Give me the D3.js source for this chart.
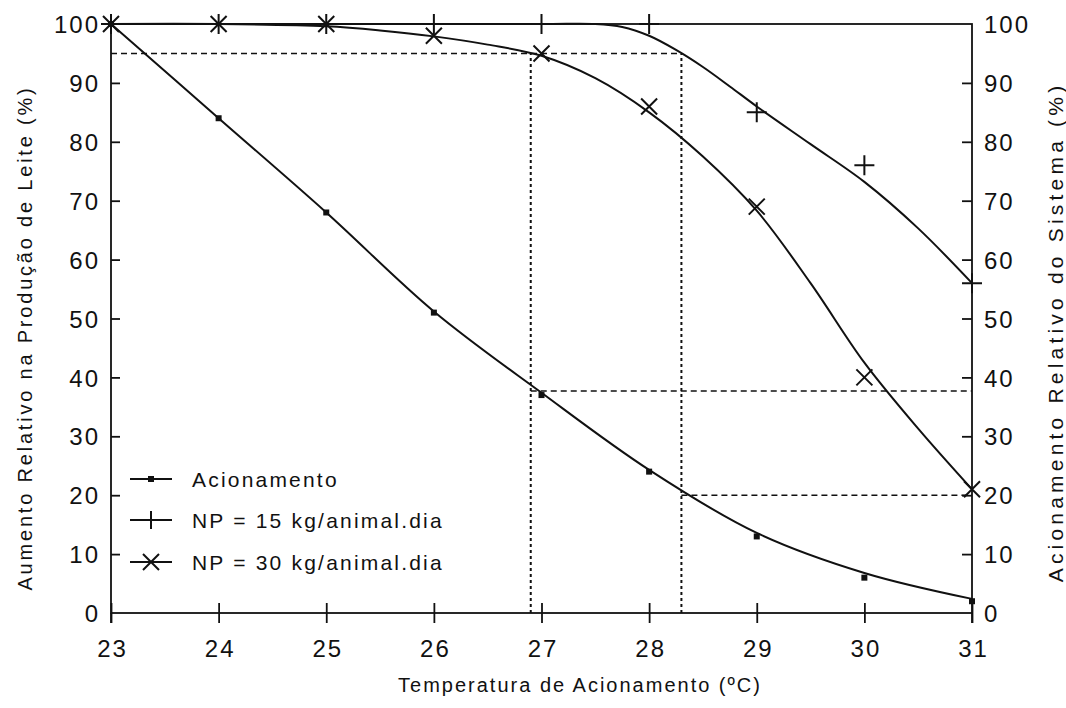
<!DOCTYPE html>
<html>
<head>
<meta charset="utf-8">
<script src="https://cdn.jsdelivr.net/npm/d3@7"></script>
<style>
  html, body { margin: 0; padding: 0; background: #fff; }
  svg text { font-family: "Liberation Sans", Arial, sans-serif; fill: #111; }
</style>
</head>
<body>
<svg id="chart" width="1066" height="708"></svg>
<script>
// Measured points at each temperature
const temps = [23, 24, 25, 26, 27, 28, 29, 30, 31];
const acionamento = [100, 84, 68, 51, 37, 24, 13, 6, 2];
const np15 = [100, 100, 100, 100, 100, 100, 85, 76, 56];
const np30 = [100, 100, 100, 98, 95, 86, 69, 40, 21];

// Fitted curves drawn through the measurements
const fitTempsAc = [23, 24, 25, 26, 27, 28, 29, 30, 31];
const fitAc = [100, 84, 68, 51.2, 37.4, 24.3, 13.6, 6.8, 2.4];
const fitTemps15 = [23, 27, 27.5, 27.75, 28, 28.25, 28.5, 28.75, 29, 29.5, 30, 30.5, 31];
const fit15 = [100, 100, 100, 99.5, 98, 95.6, 92.7, 89.4, 86, 79.6, 73.2, 65.3, 56];
const fitTemps30 = [23, 24, 25, 25.5, 26, 26.5, 27, 27.5, 28, 28.5, 29, 29.5, 30, 30.5, 31];
const fit30 = [100, 100, 99.6, 98.9, 97.9, 96.5, 94.6, 90.8, 85, 77.5, 68.3, 56, 42.5, 31.3, 21];

// Guide lines (data units)
const guideH = [[23, 28.3, 95], [26.9, 31, 37.7], [28.3, 31, 20]];
const guideV = [[26.9, 0, 95], [28.3, 0, 95]];

const xTicks = [23, 24, 25, 26, 27, 28, 29, 30, 31];
const yTicks = [0, 10, 20, 30, 40, 50, 60, 70, 80, 90, 100];

const legendLabels = ["Acionamento", "NP = 15 kg/animal.dia", "NP = 30 kg/animal.dia"];
const xTitle = "Temperatura de Acionamento (ºC)";
const yTitleLeft = "Aumento Relativo na Produção de Leite (%)";
const yTitleRight = "Acionamento Relativo do Sistema (%)";

const svg = d3.select("#chart");
const x = d3.scaleLinear().domain([23, 31]).range([111, 972]);
const y = d3.scaleLinear().domain([0, 100]).range([613, 24]);
const ink = "#111";

// Frame
svg.append("rect").attr("x", x(23)).attr("y", y(100))
  .attr("width", x(31) - x(23)).attr("height", y(0) - y(100))
  .attr("fill", "none").attr("stroke", ink).attr("stroke-width", 1.8);

// Bottom axis: ticks crossing the baseline
const xAxis = d3.axisBottom(x).tickValues(xTicks).tickSize(0).tickFormat(d3.format("d"));
const gx = svg.append("g").attr("transform", `translate(0,${y(0)})`).call(xAxis);
gx.select(".domain").remove();
gx.selectAll("text").attr("dy", null).attr("y", 44)
  .style("font-size", "24px").style("letter-spacing", "2px").attr("dx", 1);
gx.selectAll(".tick").append("line")
  .attr("y1", -10).attr("y2", 10).attr("stroke", ink).attr("stroke-width", 1.8);

// Left axis
const yAxisL = d3.axisLeft(y).tickValues(yTicks).tickSize(0).tickPadding(11);
const gl = svg.append("g").attr("transform", `translate(${x(23)},0)`).call(yAxisL);
gl.select(".domain").remove();
gl.selectAll("text").style("font-size", "24px").style("letter-spacing", "2px")
  .attr("dy", "0.36em");
gl.selectAll(".tick").filter(d => d > 0 && d < 100).append("line")
  .attr("x1", 0).attr("x2", 9).attr("stroke", ink).attr("stroke-width", 1.8);

// Right axis
const yAxisR = d3.axisRight(y).tickValues(yTicks).tickSize(0).tickPadding(12);
const gr = svg.append("g").attr("transform", `translate(${x(31)},0)`).call(yAxisR);
gr.select(".domain").remove();
gr.selectAll("text").style("font-size", "24px").style("letter-spacing", "2px")
  .attr("dy", "0.36em");
gr.selectAll(".tick").filter(d => d > 0 && d < 100).append("line")
  .attr("x1", 0).attr("x2", -10).attr("stroke", ink).attr("stroke-width", 1.8);

// Side axes run a little below the baseline
[23, 31].forEach(t => {
  svg.append("line").attr("x1", x(t)).attr("x2", x(t)).attr("y1", y(0)).attr("y2", y(0) + 10)
    .attr("stroke", ink).attr("stroke-width", 1.8);
});

// Guide lines
svg.selectAll(".gh").data(guideH).join("line").attr("class", "gh")
  .attr("x1", d => x(d[0])).attr("x2", d => x(d[1]))
  .attr("y1", d => y(d[2])).attr("y2", d => y(d[2]))
  .attr("stroke", ink).attr("stroke-width", 1.6).attr("stroke-dasharray", "6,4");
svg.selectAll(".gv").data(guideV).join("line").attr("class", "gv")
  .attr("x1", d => x(d[0])).attr("x2", d => x(d[0]))
  .attr("y1", d => y(d[1])).attr("y2", d => y(d[2]))
  .attr("stroke", ink).attr("stroke-width", 2).attr("stroke-dasharray", "3,3");

// Fitted curves
const line = d3.line().x(d => x(d[0])).y(d => y(d[1])).curve(d3.curveCatmullRom.alpha(0.5));
const fits = [
  d3.zip(fitTempsAc, fitAc),
  d3.zip(fitTemps15, fit15),
  d3.zip(fitTemps30, fit30)
];
svg.selectAll(".fit").data(fits).join("path").attr("class", "fit")
  .attr("d", line).attr("fill", "none").attr("stroke", ink).attr("stroke-width", 2);

// Markers
const drawPlus = (sel, cx, cy, s) => {
  sel.append("path").attr("d", `M${cx - s},${cy}H${cx + s}M${cx},${cy - s}V${cy + s}`)
    .attr("stroke", ink).attr("stroke-width", 2).attr("fill", "none");
};
const drawCross = (sel, cx, cy, s) => {
  sel.append("path").attr("d", `M${cx - s},${cy - s}L${cx + s},${cy + s}M${cx - s},${cy + s}L${cx + s},${cy - s}`)
    .attr("stroke", ink).attr("stroke-width", 2).attr("fill", "none");
};
const mk = svg.append("g");
temps.forEach((t, i) => {
  mk.append("rect").attr("x", x(t) - 3).attr("y", y(acionamento[i]) - 3)
    .attr("width", 6).attr("height", 6).attr("fill", ink);
  drawPlus(mk, x(t), y(np15[i]), 10);
  drawCross(mk, x(t), y(np30[i]), 8);
});

// Legend
const legend = svg.append("g");
const rowsY = [479, 520, 562];
legendLabels.forEach((lab, i) => {
  const ly = rowsY[i];
  legend.append("line").attr("x1", 130).attr("x2", 172).attr("y1", ly).attr("y2", ly)
    .attr("stroke", ink).attr("stroke-width", 1.8);
  if (i === 0) legend.append("rect").attr("x", 148).attr("y", ly - 3).attr("width", 6).attr("height", 6).attr("fill", ink);
  if (i === 1) drawPlus(legend, 151, ly, 9);
  if (i === 2) drawCross(legend, 151, ly, 8);
  legend.append("text").attr("x", 192).attr("y", ly + 8)
    .style("font-size", "21px").style("letter-spacing", "2.2px").text(lab);
});

// Axis titles
svg.append("text").attr("x", 580).attr("y", 692).attr("text-anchor", "middle")
  .style("font-size", "20px").style("letter-spacing", "2px").text(xTitle);
svg.append("text").attr("transform", "translate(32,338) rotate(-90)").attr("text-anchor", "middle")
  .style("font-size", "20px").style("letter-spacing", "2.8px").text(yTitleLeft);
svg.append("text").attr("transform", "translate(1063,332) rotate(-90)").attr("text-anchor", "middle")
  .style("font-size", "21px").style("letter-spacing", "4.2px").text(yTitleRight);
</script>
</body>
</html>
